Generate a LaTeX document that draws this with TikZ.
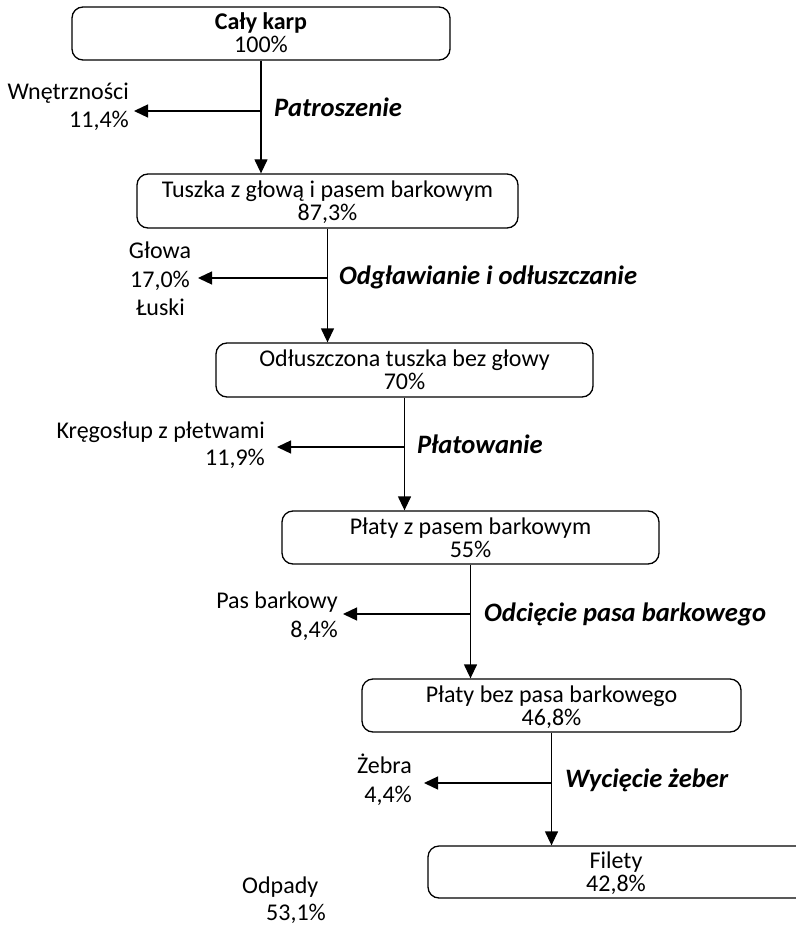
\documentclass[tikz,border=0pt]{standalone}
\usepackage{fontspec}
\setmainfont{Carlito}
\usetikzlibrary{arrows.meta}
\newcommand{\mainsz}{\fontsize{24}{23}\selectfont}
\newcommand{\procsz}{\fontsize{26.6}{26}\selectfont}
\newcommand{\topst}{\rule{0pt}{20pt}}
\newcommand{\botst}{\rule[-4pt]{0pt}{4pt}}
\begin{document}
\begin{tikzpicture}[x=1pt,y=-1pt,
  box/.style={draw, rounded corners=11pt, line width=1.3pt, minimum width=#1,
    minimum height=54pt, inner sep=0pt, align=center, font=\mainsz},
  arr/.style={line width=1.3pt, -{Triangle[length=14pt,width=13pt]}},
  txt/.style={inner sep=0pt, font=\mainsz},
  proc/.style={inner sep=0pt, font=\procsz\bfseries\itshape, anchor=base west}]
\useasboundingbox (0,0) rectangle (795,925);

% boxes
\node[box=378pt, minimum height=53pt] (b1) at (261,33.5) {\topst\textbf{Cały karp}\\100\%\botst};
\node[box=381pt] (b2) at (327.5,201) {\topst Tuszka z głową i pasem barkowym\\87,3\%\botst};
\node[box=377pt] (b3) at (404.5,370) {\topst Odłuszczona tuszka bez głowy\\70\%\botst};
\node[box=377pt, minimum height=53pt] (b4) at (470.5,537.5) {\topst Płaty z pasem barkowym\\55\%\botst};
\node[box=379pt, minimum height=53pt] (b5) at (551.5,705.5) {\topst Płaty bez pasa barkowego\\46,8\%\botst};
\node[box=402pt, minimum height=52pt] (b6) at (629,872) {\topst Filety\hspace*{26pt}\\42,8\%\hspace*{26pt}\botst};

% main arrows
\draw[arr] (b1.south) -- (b1.south |- b2.north);
\draw[arr] (b2.south) -- (b2.south |- b3.north);
\draw[arr] (b3.south) -- (b3.south |- b4.north);
\draw[arr] (b4.south) -- (b4.south |- b5.north);
\draw[arr] (b5.south) -- (b5.south |- b6.north);

% side arrows
\coordinate (t1) at (134,111);
\coordinate (t2) at (198,278);
\coordinate (t3) at (277,447);
\coordinate (t4) at (343,614);
\coordinate (t5) at (424,783);
\draw[arr] (b1.south |- t1) -- (t1);
\draw[arr] (b2.south |- t2) -- (t2);
\draw[arr] (b3.south |- t3) -- (t3);
\draw[arr] (b4.south |- t4) -- (t4);
\draw[arr] (b5.south |- t5) -- (t5);

% by-product labels
\node[txt, anchor=base east] (w1a) at (129,100) {Wnętrzności};
\node[txt, anchor=base east] (w1b) at (129,128) {11,4\%};
\node[txt, anchor=base] (w2a) at (160,258) {Głowa};
\node[txt, anchor=base] (w2b) at (160,287) {17,0\%};
\node[txt, anchor=base] (w2c) at (160.5,315) {Łuski};
\node[txt, anchor=base east] (w3a) at (265,438) {Kręgosłup z płetwami};
\node[txt, anchor=base east] (w3b) at (265,465) {11,9\%};
\node[txt, anchor=base east] (w4a) at (338,608) {Pas barkowy};
\node[txt, anchor=base east] (w4b) at (338,637) {8,4\%};
\node[txt, anchor=base east] (w5a) at (412,773) {Żebra};
\node[txt, anchor=base east] (w5b) at (412,802) {4,4\%};
\node[txt, anchor=base west] (oda) at (242,893) {Odpady};
\node[txt, anchor=base west] (odb) at (266,920) {53,1\%};

% process labels
\node[proc] (p1) at (274,117) {Patroszenie};
\node[proc] (p2) at (339,284) {Odgławianie i odłuszczanie};
\node[proc] (p3) at (417,453) {Płatowanie};
\node[proc] (p4) at (484,621) {Odcięcie pasa barkowego};
\node[proc] (p5) at (565,787) {Wycięcie żeber};
\end{tikzpicture}
\end{document}
